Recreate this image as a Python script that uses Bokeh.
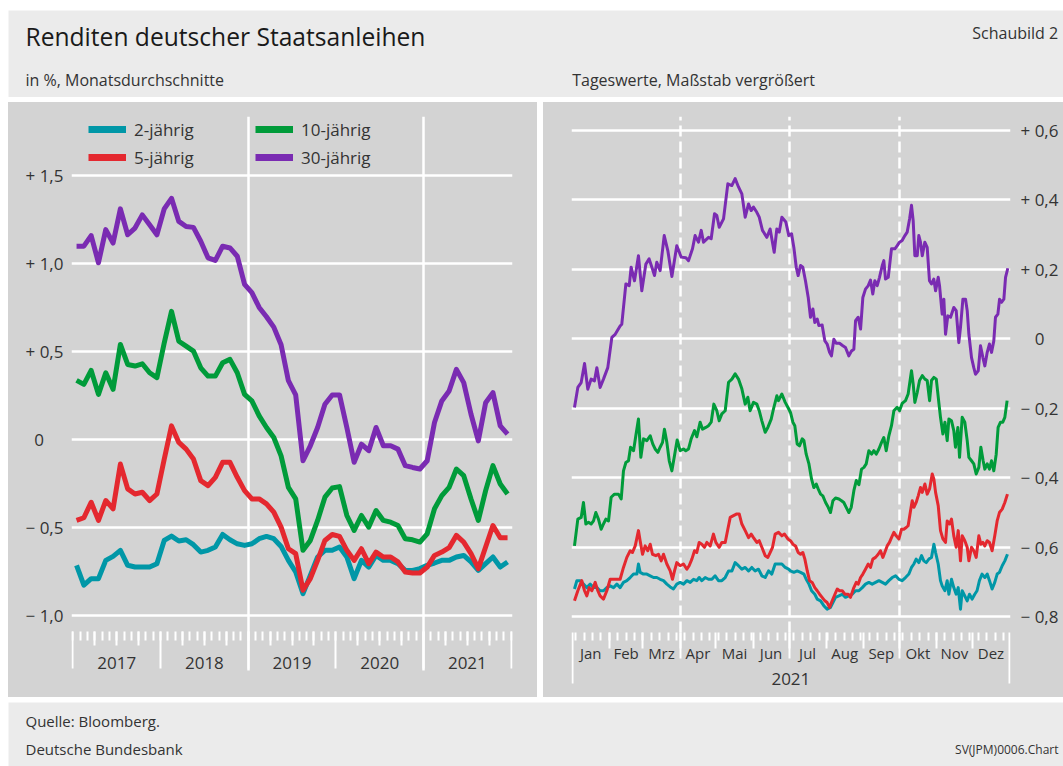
from bokeh.plotting import figure
from bokeh.models import Range1d, FixedTicker, Legend, LegendItem, Grid, Spacer
from bokeh.layouts import column, row
from bokeh.embed import file_html
from bokeh.resources import INLINE
from bokeh.core.properties import value

FONT = "Open Sans"
TXT = "#333333"
PANEL = "#d3d3d3"
BAND = "#ebebeb"

# ---------------------------------------------------------------- data
serien = ["2-jährig", "5-jährig", "10-jährig", "30-jährig"]
farben = ["#0097a7", "#e4282f", "#009b3a", "#7a2bb2"]

jahre = [2017, 2018, 2019, 2020, 2021]
monate = [f"{j}-{m:02d}" for j in jahre for m in range(1, 13)]

# Monatsdurchschnitte in %
rendite_2j = [-0.713, -0.826, -0.789, -0.789, -0.685, -0.662, -0.628, -0.713, -0.723, -0.723, -0.723, -0.704,
              -0.572, -0.547, -0.575, -0.568, -0.596, -0.638, -0.628, -0.609, -0.538, -0.568, -0.591, -0.600,
              -0.591, -0.562, -0.549, -0.562, -0.606, -0.685, -0.751, -0.874, -0.770, -0.666, -0.628, -0.628,
              -0.609, -0.666, -0.789, -0.685, -0.723, -0.657, -0.685, -0.685, -0.704, -0.742, -0.742, -0.732,
              -0.713, -0.700, -0.685, -0.685, -0.666, -0.657, -0.694, -0.742, -0.704, -0.666, -0.723, -0.694]
rendite_5j = [-0.458, -0.443, -0.355, -0.458, -0.345, -0.392, -0.138, -0.279, -0.308, -0.298, -0.345, -0.308,
              -0.110, 0.079, -0.015, -0.053, -0.109, -0.232, -0.260, -0.213, -0.128, -0.128, -0.213, -0.289,
              -0.336, -0.336, -0.364, -0.411, -0.496, -0.619, -0.647, -0.855, -0.789, -0.685, -0.572, -0.538,
              -0.549, -0.628, -0.685, -0.619, -0.704, -0.638, -0.666, -0.666, -0.694, -0.751, -0.757, -0.757,
              -0.723, -0.657, -0.638, -0.613, -0.543, -0.581, -0.647, -0.732, -0.609, -0.487, -0.557, -0.557]
rendite_10j = [0.338, 0.315, 0.394, 0.258, 0.381, 0.287, 0.542, 0.428, 0.419, 0.432, 0.381, 0.353,
               0.550, 0.730, 0.560, 0.532, 0.504, 0.409, 0.362, 0.362, 0.438, 0.457, 0.381, 0.258,
               0.221, 0.136, 0.070, 0.013, -0.091, -0.270, -0.336, -0.628, -0.572, -0.458, -0.326, -0.274,
               -0.266, -0.430, -0.515, -0.430, -0.496, -0.402, -0.458, -0.468, -0.487, -0.562, -0.568, -0.581,
               -0.534, -0.392, -0.317, -0.270, -0.166, -0.204, -0.336, -0.458, -0.289, -0.147, -0.251, -0.308]
rendite_30j = [1.100, 1.100, 1.160, 1.006, 1.194, 1.118, 1.312, 1.165, 1.203, 1.278, 1.222, 1.165,
               1.312, 1.372, 1.241, 1.212, 1.207, 1.128, 1.034, 1.019, 1.100, 1.090, 1.043, 0.883,
               0.836, 0.752, 0.699, 0.640, 0.540, 0.336, 0.255, -0.119, -0.034, 0.070, 0.202, 0.255,
               0.255, 0.070, -0.128, -0.025, -0.062, 0.070, -0.034, -0.034, -0.053, -0.147, -0.157, -0.166,
               -0.119, 0.098, 0.221, 0.277, 0.400, 0.325, 0.145, -0.006, 0.211, 0.268, 0.079, 0.032]

# Tageswerte 2021: (Tag im Jahr 2021, Rendite in %)
tag_2j = [(1.9, -0.720), (3.9, -0.696), (6.7, -0.696), (9.4, -0.706), (12.2, -0.716), (15.0, -0.706),
          (17.8, -0.716), (20.6, -0.716), (23.3, -0.725), (26.1, -0.725), (28.9, -0.716), (31.7, -0.711),
          (34.5, -0.716), (37.3, -0.706), (40.0, -0.716), (42.8, -0.701), (45.6, -0.696), (48.4, -0.687),
          (51.2, -0.677), (54.0, -0.677), (55.3, -0.648), (56.7, -0.672), (59.5, -0.677), (62.3, -0.677),
          (65.1, -0.682), (67.9, -0.687), (70.6, -0.687), (73.4, -0.692), (76.2, -0.696), (79.0, -0.706),
          (81.8, -0.714), (84.5, -0.720), (87.3, -0.706), (90.1, -0.701), (92.9, -0.706), (95.7, -0.696),
          (98.5, -0.701), (101.3, -0.692), (104.0, -0.696), (106.0, -0.687), (108.2, -0.696), (111.0, -0.687),
          (113.8, -0.692), (116.6, -0.692), (119.3, -0.682), (122.1, -0.696), (124.9, -0.696), (127.7, -0.687),
          (130.5, -0.668), (133.3, -0.668), (136.0, -0.644), (138.8, -0.653), (141.6, -0.663), (144.4, -0.658),
          (147.2, -0.668), (149.9, -0.658), (152.7, -0.668), (155.5, -0.663), (158.3, -0.682), (161.1, -0.687),
          (163.9, -0.668), (166.6, -0.677), (169.4, -0.648), (172.2, -0.648), (175.0, -0.648), (177.8, -0.658),
          (180.6, -0.663), (182.2, -0.668), (185.0, -0.672), (187.8, -0.668), (190.6, -0.672), (193.4, -0.677),
          (195.3, -0.692), (197.6, -0.706), (199.8, -0.725), (202.5, -0.735), (204.5, -0.749), (207.3, -0.754),
          (210.0, -0.768), (212.8, -0.778), (215.6, -0.773), (217.6, -0.759), (219.8, -0.744), (222.6, -0.740),
          (225.4, -0.735), (228.1, -0.744), (230.9, -0.740), (233.7, -0.735), (236.5, -0.725), (239.3, -0.725),
          (242.1, -0.716), (244.8, -0.706), (247.6, -0.701), (250.4, -0.706), (253.2, -0.701), (256.0, -0.696),
          (258.8, -0.701), (261.5, -0.706), (264.3, -0.696), (267.1, -0.687), (269.9, -0.682), (272.7, -0.692),
          (275.4, -0.696), (278.2, -0.687), (281.0, -0.677), (283.2, -0.658), (285.2, -0.648), (287.1, -0.634),
          (289.3, -0.644), (291.6, -0.624), (293.5, -0.639), (295.5, -0.644), (297.7, -0.634), (299.9, -0.629),
          (301.9, -0.591), (303.3, -0.615), (305.5, -0.648), (307.4, -0.696), (308.8, -0.711), (311.1, -0.725),
          (313.0, -0.696), (314.4, -0.735), (316.6, -0.692), (318.5, -0.716), (320.5, -0.735), (322.2, -0.716),
          (324.1, -0.778), (325.5, -0.725), (327.7, -0.740), (329.7, -0.754), (331.6, -0.735), (333.8, -0.749),
          (336.0, -0.735), (337.9, -0.725), (339.9, -0.696), (342.1, -0.677), (344.4, -0.687), (346.4, -0.677),
          (348.3, -0.696), (350.5, -0.720), (352.7, -0.701), (354.7, -0.677), (356.6, -0.672), (358.9, -0.653),
          (361.1, -0.639), (363.3, -0.620)]

tag_5j = [(1.9, -0.754), (4.7, -0.725), (8.0, -0.696), (10.3, -0.725), (12.2, -0.740), (14.2, -0.716),
          (16.4, -0.725), (19.2, -0.701), (21.4, -0.725), (23.3, -0.740), (26.1, -0.749), (28.9, -0.725),
          (31.7, -0.692), (35.9, -0.692), (40.0, -0.692), (42.8, -0.658), (45.6, -0.629), (48.4, -0.610),
          (50.3, -0.615), (52.6, -0.596), (55.3, -0.552), (56.7, -0.581), (58.7, -0.620), (60.9, -0.596),
          (63.1, -0.610), (65.1, -0.591), (67.0, -0.620), (69.8, -0.624), (72.0, -0.620), (74.3, -0.639),
          (76.2, -0.620), (79.0, -0.648), (81.8, -0.668), (83.7, -0.692), (85.4, -0.668), (87.3, -0.644),
          (90.1, -0.653), (92.9, -0.648), (95.7, -0.663), (97.6, -0.653), (99.9, -0.634), (102.1, -0.610),
          (104.0, -0.615), (106.0, -0.586), (108.2, -0.591), (110.4, -0.600), (112.4, -0.586), (115.2, -0.596),
          (117.9, -0.562), (119.9, -0.586), (122.7, -0.600), (124.9, -0.586), (127.7, -0.586), (129.9, -0.548),
          (131.9, -0.514), (134.6, -0.509), (137.4, -0.504), (139.4, -0.504), (141.6, -0.533), (144.4, -0.552),
          (147.2, -0.572), (149.4, -0.562), (151.3, -0.572), (154.1, -0.586), (156.1, -0.581), (158.3, -0.600),
          (161.1, -0.624), (163.3, -0.629), (165.2, -0.615), (167.2, -0.600), (169.4, -0.562), (172.2, -0.557),
          (175.0, -0.567), (177.2, -0.562), (180.0, -0.576), (182.2, -0.581), (184.2, -0.591), (186.4, -0.596),
          (188.6, -0.615), (190.6, -0.620), (192.5, -0.615), (194.2, -0.634), (196.2, -0.668), (198.1, -0.696),
          (200.3, -0.701), (202.5, -0.716), (204.5, -0.725), (206.5, -0.735), (208.6, -0.744), (210.9, -0.754),
          (212.8, -0.759), (214.8, -0.773), (217.0, -0.754), (219.3, -0.735), (221.2, -0.720), (223.1, -0.725),
          (225.4, -0.725), (227.6, -0.735), (230.4, -0.735), (232.3, -0.744), (235.1, -0.716), (237.1, -0.701),
          (238.7, -0.706), (240.7, -0.687), (242.6, -0.677), (244.8, -0.663), (247.1, -0.648), (249.0, -0.658),
          (250.9, -0.634), (253.2, -0.629), (255.4, -0.620), (257.3, -0.610), (259.3, -0.629), (260.9, -0.615),
          (262.9, -0.596), (264.8, -0.586), (266.5, -0.572), (268.5, -0.557), (270.4, -0.567), (272.7, -0.576),
          (274.9, -0.548), (276.8, -0.548), (278.8, -0.543), (280.4, -0.538), (282.4, -0.495), (283.8, -0.466),
          (285.2, -0.485), (287.1, -0.471), (288.8, -0.452), (290.7, -0.428), (292.2, -0.442), (294.4, -0.418),
          (296.3, -0.447), (298.3, -0.432), (300.5, -0.389), (301.9, -0.404), (303.3, -0.442), (305.5, -0.480),
          (307.4, -0.552), (309.4, -0.576), (311.6, -0.586), (313.0, -0.524), (315.0, -0.533), (316.6, -0.519),
          (318.5, -0.567), (320.5, -0.600), (322.2, -0.552), (324.1, -0.639), (325.5, -0.567), (327.7, -0.581),
          (329.7, -0.600), (331.1, -0.639), (333.3, -0.600), (335.2, -0.610), (337.2, -0.629), (339.4, -0.567),
          (341.1, -0.591), (342.8, -0.586), (344.4, -0.596), (346.4, -0.581), (348.3, -0.586), (350.5, -0.610),
          (352.7, -0.567), (354.7, -0.524), (356.6, -0.500), (358.9, -0.490), (361.1, -0.471), (363.3, -0.447)]

tag_10j = [(1.9, -0.596), (4.7, -0.519), (7.5, -0.514), (9.4, -0.471), (11.4, -0.533), (13.6, -0.528),
           (15.8, -0.533), (17.8, -0.524), (19.7, -0.500), (21.9, -0.519), (24.2, -0.548), (26.1, -0.533),
           (28.1, -0.519), (30.3, -0.524), (32.5, -0.456), (35.3, -0.447), (38.6, -0.447), (40.9, -0.461),
           (42.8, -0.380), (44.8, -0.356), (47.0, -0.351), (48.7, -0.312), (51.2, -0.322), (53.1, -0.279),
           (55.3, -0.231), (57.3, -0.341), (59.5, -0.288), (62.3, -0.293), (65.1, -0.279), (67.3, -0.303),
           (69.2, -0.317), (71.5, -0.327), (73.4, -0.312), (75.4, -0.298), (77.0, -0.260), (79.0, -0.298),
           (81.0, -0.351), (83.2, -0.380), (85.4, -0.336), (87.6, -0.291), (90.1, -0.322), (92.9, -0.317),
           (94.8, -0.322), (97.1, -0.317), (99.3, -0.288), (102.1, -0.264), (104.0, -0.282), (106.8, -0.240),
           (108.8, -0.260), (111.5, -0.255), (113.8, -0.250), (116.0, -0.240), (118.2, -0.188), (120.7, -0.207),
           (122.7, -0.236), (124.9, -0.216), (127.7, -0.207), (130.5, -0.125), (133.3, -0.116), (136.0, -0.101),
           (138.8, -0.116), (141.6, -0.144), (144.4, -0.188), (146.6, -0.168), (148.5, -0.207), (151.3, -0.183),
           (154.1, -0.188), (156.1, -0.207), (158.3, -0.236), (161.1, -0.269), (163.3, -0.255), (166.1, -0.231),
           (168.0, -0.202), (170.8, -0.164), (172.2, -0.178), (175.0, -0.159), (177.8, -0.183), (180.0, -0.197),
           (182.2, -0.212), (184.2, -0.240), (185.8, -0.250), (187.8, -0.303), (189.7, -0.308), (192.0, -0.288),
           (193.4, -0.293), (195.3, -0.332), (197.6, -0.360), (199.8, -0.404), (201.7, -0.428), (203.7, -0.418),
           (205.3, -0.432), (207.3, -0.447), (209.2, -0.452), (211.5, -0.471), (213.7, -0.485), (215.6, -0.500),
           (217.6, -0.466), (219.8, -0.458), (222.6, -0.461), (224.8, -0.466), (226.7, -0.471), (228.7, -0.485),
           (230.9, -0.500), (232.9, -0.485), (235.1, -0.437), (237.1, -0.408), (239.3, -0.420), (241.5, -0.375),
           (243.5, -0.370), (245.4, -0.360), (247.6, -0.322), (249.9, -0.332), (251.8, -0.322), (253.8, -0.332),
           (256.0, -0.317), (258.2, -0.298), (260.1, -0.284), (262.1, -0.322), (264.3, -0.279), (266.5, -0.250),
           (268.5, -0.207), (271.2, -0.197), (273.2, -0.207), (275.4, -0.186), (278.2, -0.178), (280.4, -0.159),
           (283.2, -0.092), (284.6, -0.130), (286.0, -0.183), (288.0, -0.154), (289.9, -0.120), (292.2, -0.106),
           (294.4, -0.116), (296.3, -0.120), (298.3, -0.178), (299.9, -0.120), (301.9, -0.111), (303.9, -0.116),
           (306.0, -0.183), (307.4, -0.226), (309.4, -0.274), (311.1, -0.240), (313.0, -0.293), (314.4, -0.231),
           (316.6, -0.236), (318.5, -0.264), (319.9, -0.312), (321.9, -0.255), (323.3, -0.341), (325.5, -0.226),
           (327.7, -0.240), (329.7, -0.293), (331.1, -0.341), (333.3, -0.351), (335.2, -0.360), (337.2, -0.389),
           (339.4, -0.370), (341.1, -0.312), (343.0, -0.351), (344.4, -0.375), (346.4, -0.360), (348.3, -0.375),
           (350.0, -0.351), (351.9, -0.380), (353.9, -0.332), (355.5, -0.255), (357.5, -0.240), (359.4, -0.240),
           (361.1, -0.226), (363.0, -0.178)]

tag_30j = [(1.9, -0.198), (4.7, -0.140), (7.5, -0.126), (10.3, -0.071), (13.0, -0.145), (15.8, -0.116),
           (18.6, -0.121), (20.6, -0.083), (23.3, -0.140), (26.1, -0.116), (29.7, -0.083), (33.1, 0.004),
           (35.9, 0.013), (40.0, 0.037), (41.4, 0.042), (44.8, 0.158), (47.6, 0.153), (49.2, 0.206),
           (52.0, 0.167), (55.3, 0.239), (58.1, 0.138), (61.5, 0.215), (64.2, 0.230), (66.5, 0.206),
           (68.7, 0.182), (70.6, 0.220), (73.4, 0.196), (76.8, 0.297), (79.8, 0.254), (83.2, 0.179),
           (87.3, 0.268), (91.0, 0.235), (94.9, 0.233), (97.1, 0.225), (100.4, 0.259), (102.6, 0.297),
           (105.4, 0.278), (107.7, 0.312), (109.6, 0.278), (113.8, 0.292), (116.0, 0.288), (118.8, 0.360),
           (120.7, 0.355), (122.7, 0.321), (126.3, 0.345), (129.9, 0.446), (133.2, 0.441), (136.0, 0.461),
           (138.8, 0.437), (141.6, 0.417), (144.4, 0.350), (147.2, 0.388), (149.4, 0.369), (151.3, 0.379),
           (154.1, 0.364), (156.1, 0.350), (158.8, 0.312), (162.5, 0.292), (165.2, 0.316), (168.6, 0.249),
           (170.8, 0.316), (172.8, 0.307), (175.0, 0.350), (178.3, 0.336), (180.8, 0.297), (183.1, 0.302),
           (185.0, 0.263), (187.0, 0.206), (188.6, 0.182), (190.6, 0.211), (192.5, 0.206), (194.7, 0.167),
           (197.0, 0.119), (198.9, 0.062), (200.9, 0.086), (202.5, 0.047), (204.5, 0.057), (205.9, 0.038),
           (208.6, 0.040), (210.9, -0.006), (212.8, -0.015), (214.8, -0.039), (216.4, -0.049), (218.4, -0.001),
           (220.3, -0.013), (223.1, -0.013), (225.9, -0.020), (228.1, -0.025), (230.9, -0.049), (233.1, -0.035),
           (235.1, -0.030), (236.5, 0.052), (238.7, 0.062), (240.7, 0.028), (242.6, 0.119), (244.8, 0.143),
           (247.1, 0.153), (249.0, 0.169), (250.9, 0.129), (252.6, 0.167), (254.6, 0.153), (256.5, 0.177),
           (258.8, 0.211), (260.1, 0.225), (261.5, 0.172), (263.8, 0.177), (266.5, 0.259), (269.3, 0.259),
           (271.3, 0.268), (273.2, 0.278), (275.4, 0.283), (277.7, 0.297), (279.6, 0.307), (281.6, 0.345),
           (283.2, 0.384), (284.6, 0.340), (286.0, 0.239), (288.0, 0.239), (289.3, 0.297), (290.7, 0.278),
           (292.2, 0.239), (294.3, 0.278), (296.3, 0.263), (298.2, 0.167), (299.9, 0.158), (301.8, 0.172),
           (303.3, 0.138), (305.5, 0.177), (306.6, 0.153), (308.8, 0.071), (310.2, 0.114), (311.6, 0.013),
           (313.5, 0.066), (315.8, 0.062), (318.5, 0.090), (320.5, 0.081), (322.7, -0.011), (324.1, 0.033),
           (326.1, 0.114), (328.3, 0.114), (329.7, 0.081), (331.1, 0.013), (333.3, -0.054), (335.2, -0.083),
           (336.6, -0.102), (338.9, -0.092), (340.8, -0.020), (342.8, -0.054), (344.4, -0.078), (346.4, -0.039),
           (348.3, -0.015), (350.0, -0.039), (351.9, -0.006), (353.3, 0.062), (355.3, 0.071), (356.7, 0.114),
           (358.3, 0.105), (360.3, 0.114), (361.7, 0.177), (363.6, 0.203)]

monatsnamen = ["Jan", "Feb", "Mrz", "Apr", "Mai", "Jun", "Jul", "Aug", "Sep", "Okt", "Nov", "Dez"]
monatsanfang_2021 = [0, 31, 59, 90, 120, 151, 181, 212, 243, 273, 304, 334, 365]

links_ticks = [-1.0, -0.5, 0.0, 0.5, 1.0, 1.5]
links_labels = ["\u2212 1,0", "\u2212 0,5", "0\u2007\u2007", "+ 0,5", "+ 1,0", "+ 1,5"]
rechts_ticks = [-0.8, -0.6, -0.4, -0.2, 0.0, 0.2, 0.4, 0.6]
rechts_labels = ["\u2212 0,8", "\u2212 0,6", "\u2212 0,4", "\u2212 0,2", "\u2007\u00a00", "+ 0,2", "+ 0,4", "+ 0,6"]

# ---------------------------------------------------------------- helpers
def vgrid(p, ticks, y_lo, y_hi, width=2.0, dash="solid"):
    p.add_layout(Grid(dimension=0, ticker=FixedTicker(ticks=ticks), cross_bounds=(y_lo, y_hi),
                      grid_line_color="white", grid_line_width=width, grid_line_dash=dash))


def style_yaxis(ax, ticks, labels, standoff):
    ax.ticker = FixedTicker(ticks=ticks)
    ax.major_label_overrides = {t: l for t, l in zip(ticks, labels)}
    ax.axis_line_color = None
    ax.major_tick_line_color = None
    ax.minor_tick_line_color = None
    ax.major_tick_out = 0
    ax.major_tick_in = 0
    ax.minor_tick_out = 0
    ax.minor_tick_in = 0
    ax.major_label_standoff = standoff
    ax.major_label_text_font = FONT
    ax.major_label_text_font_size = "17px"
    ax.major_label_text_color = TXT


def band(h, top=0):
    p = figure(width=1055, height=h, x_range=Range1d(0, 1055), y_range=Range1d(h - top, 0),
               x_axis_type=None, y_axis_type=None, toolbar_location=None, output_backend="svg",
               min_border_left=0, min_border_right=0, min_border_top=top, min_border_bottom=0,
               background_fill_color=BAND, border_fill_color="white", outline_line_color=None)
    return p


def txt(p, x, y, s, size, color=TXT, align="left"):
    # y = vertical centre of the text line
    p.text(x=[x], y=[y], text=[s], text_font=value(FONT), text_font_size=value(size),
           text_color=color, text_align=align, text_baseline="middle")

# ---------------------------------------------------------------- header (page y 0..97, band from y 10)
hdr = band(97, top=10)
txt(hdr, 17, 26.2, "Renditen deutscher Staatsanleihen", "24.6px", "#1a1a1a")
txt(hdr, 1049.7, 22.5, "Schaubild 2", "16px", align="right")
txt(hdr, 17, 69, "in %, Monatsdurchschnitte", "16px")
txt(hdr, 563.7, 69, "Tageswerte, Maßstab vergrößert", "16px")

# ---------------------------------------------------------------- left panel (page x 8..537, y 102..697)
L_W, L_H, L_OX, L_OY = 529, 595, 8, 102
L_FL, L_FR, L_FT, L_FB = 71, 512, 116, 697
X2017, X2022 = 72.4, 510.7
LY0, L_PXU = 439.3, 176.0
ppy = (X2022 - X2017) / 5
lx0 = 2017 + (L_FL - X2017) / ppy
lx1 = 2022 + (L_FR - X2022) / ppy


def ly(px):
    return (LY0 - px) / L_PXU


left = figure(width=L_W, height=L_H, x_range=Range1d(lx0, lx1), y_range=Range1d(ly(L_FB), ly(L_FT)),
              x_axis_type=None, toolbar_location=None, output_backend="svg",
              min_border_left=L_FL - L_OX, min_border_right=L_W - (L_FR - L_OX),
              min_border_top=L_FT - L_OY, min_border_bottom=0,
              background_fill_color=PANEL, border_fill_color=PANEL, outline_line_color=None,
              styles={"background-color": PANEL})

left.ygrid.ticker = FixedTicker(ticks=links_ticks)
left.ygrid.grid_line_color = "white"
left.ygrid.grid_line_width = 2.5
vgrid(left, [2019, 2021], ly(670), ly(L_FT), 2.5)
style_yaxis(left.yaxis[0], links_ticks, links_labels, 8)

# time axis: ticks for years, quarters and months, year labels
year_bounds = [2017 + k for k in range(6)]
month_bounds = [2017 + k / 12 for k in range(61)]
quarter_bounds = [2017 + k / 4 for k in range(21) if k % 4]
vgrid(left, month_bounds, ly(639.6), ly(631.3), 2)
vgrid(left, quarter_bounds, ly(644.5), ly(631.3), 2)
vgrid(left, year_bounds, ly(667.8), ly(631.3), 2)
left.text(x=[j + 0.5 for j in jahre], y=[ly(662.8)] * len(jahre), text=[str(j) for j in jahre],
          text_align="center", text_baseline="middle", text_font=value(FONT),
          text_font_size=value("17px"), text_color=TXT)

monat_x = [int(s[:4]) + (int(s[5:]) - 0.5) / 12 for s in monate]
links_daten = dict(zip(serien, [rendite_2j, rendite_5j, rendite_10j, rendite_30j]))
for name in ["30-jährig", "10-jährig", "2-jährig", "5-jährig"]:
    left.line(x=monat_x, y=links_daten[name], line_color=farben[serien.index(name)],
              line_width=5, line_join="round")

# legend keys: hidden copies of the series, drawn thicker in the legend as in the original
keys = {n: left.line(x=monat_x, y=links_daten[n], line_color=c, line_width=7, visible=False)
        for n, c in zip(serien, farben)}
legend_style = dict(orientation="vertical", padding=0, margin=0, spacing=4, glyph_width=38,
                    glyph_height=24, label_height=24, label_standoff=8,
                    label_text_font=FONT, label_text_font_size="17px", label_text_color=TXT,
                    background_fill_alpha=0, border_line_alpha=0)
frame_h = L_FB - L_FT
leg_h = 2 * 24 + 4
leg_y = frame_h - 1 - leg_h
leg1 = Legend(items=[LegendItem(label=value(n), renderers=[keys[n]]) for n in serien[:2]],
              location=(17, leg_y), **legend_style)
leg2 = Legend(items=[LegendItem(label=value(n), renderers=[keys[n]]) for n in serien[2:]],
              location=(184, leg_y), **legend_style)
left.add_layout(leg1)
left.add_layout(leg2)

# ---------------------------------------------------------------- right panel (page x 543..1063)
R_W, R_H, R_OX, R_OY = 520, 595, 543, 102
R_FL, R_FR, R_FT, R_FB = 571, 1010, 116, 697
D0_X, D365_X = 571.7, 1009.0
ppd = (D365_X - D0_X) / 365
rx0 = (R_FL - D0_X) / ppd
rx1 = 365 + (R_FR - D365_X) / ppd
RY0, R_PXU = 338.3, 347.5


def ry(px):
    return (RY0 - px) / R_PXU


right = figure(width=R_W, height=R_H, x_range=Range1d(rx0, rx1), y_range=Range1d(ry(R_FB), ry(R_FT)),
               x_axis_type=None, y_axis_location="right", toolbar_location=None, output_backend="svg",
               min_border_left=R_FL - R_OX, min_border_right=R_W - (R_FR - R_OX),
               min_border_top=R_FT - R_OY, min_border_bottom=0,
               background_fill_color=PANEL, border_fill_color=PANEL, outline_line_color=None,
               styles={"background-color": PANEL})

right.ygrid.ticker = FixedTicker(ticks=rechts_ticks)
right.ygrid.grid_line_color = "white"
right.ygrid.grid_line_width = 2.3
style_yaxis(right.yaxis[0], rechts_ticks, rechts_labels, 10)

quartale = [90, 181, 273]
montage = list(range(3, 365, 7))
mitte = [(a + b) / 2 for a, b in zip(monatsanfang_2021[:-1], monatsanfang_2021[1:])]
vgrid(right, quartale, ry(631.7), ry(R_FT), 2.5, "11 5")
vgrid(right, montage, ry(640), ry(631.7), 2)
vgrid(right, monatsanfang_2021[1:-1], ry(648.3), ry(631.7), 2)
vgrid(right, quartale, ry(658.3), ry(631.7), 2)
vgrid(right, [0, 365], ry(683.3), ry(631.7), 2)
right.text(x=mitte, y=[ry(652.3)] * 12, text=monatsnamen, text_align="center", text_baseline="middle",
           text_font=value(FONT), text_font_size=value("15px"), text_color=TXT)
right.text(x=[182.5], y=[ry(678.3)], text=["2021"], text_align="center", text_baseline="middle",
           text_font=value(FONT), text_font_size=value("17px"), text_color=TXT)

rechts_daten = dict(zip(serien, [tag_2j, tag_5j, tag_10j, tag_30j]))
for name in ["30-jährig", "10-jährig", "2-jährig", "5-jährig"]:
    tage, werte = zip(*rechts_daten[name])
    right.line(x=list(tage), y=list(werte), line_color=farben[serien.index(name)],
               line_width=3, line_join="round")

# ---------------------------------------------------------------- footer (page y 702..766)
foot = band(64)
txt(foot, 17, 18.5, "Quelle: Bloomberg.", "15px")
txt(foot, 17, 46.5, "Deutsche Bundesbank", "15px")
txt(foot, 1050, 46.5, "SV(JPM)0006.Chart", "12px", align="right")

page = row(Spacer(width=8, height=766),
           column(hdr, row(left, right, spacing=6), foot, spacing=5),
           spacing=0)
open("out.html", "w", encoding="utf-8").write(file_html(page, INLINE))
